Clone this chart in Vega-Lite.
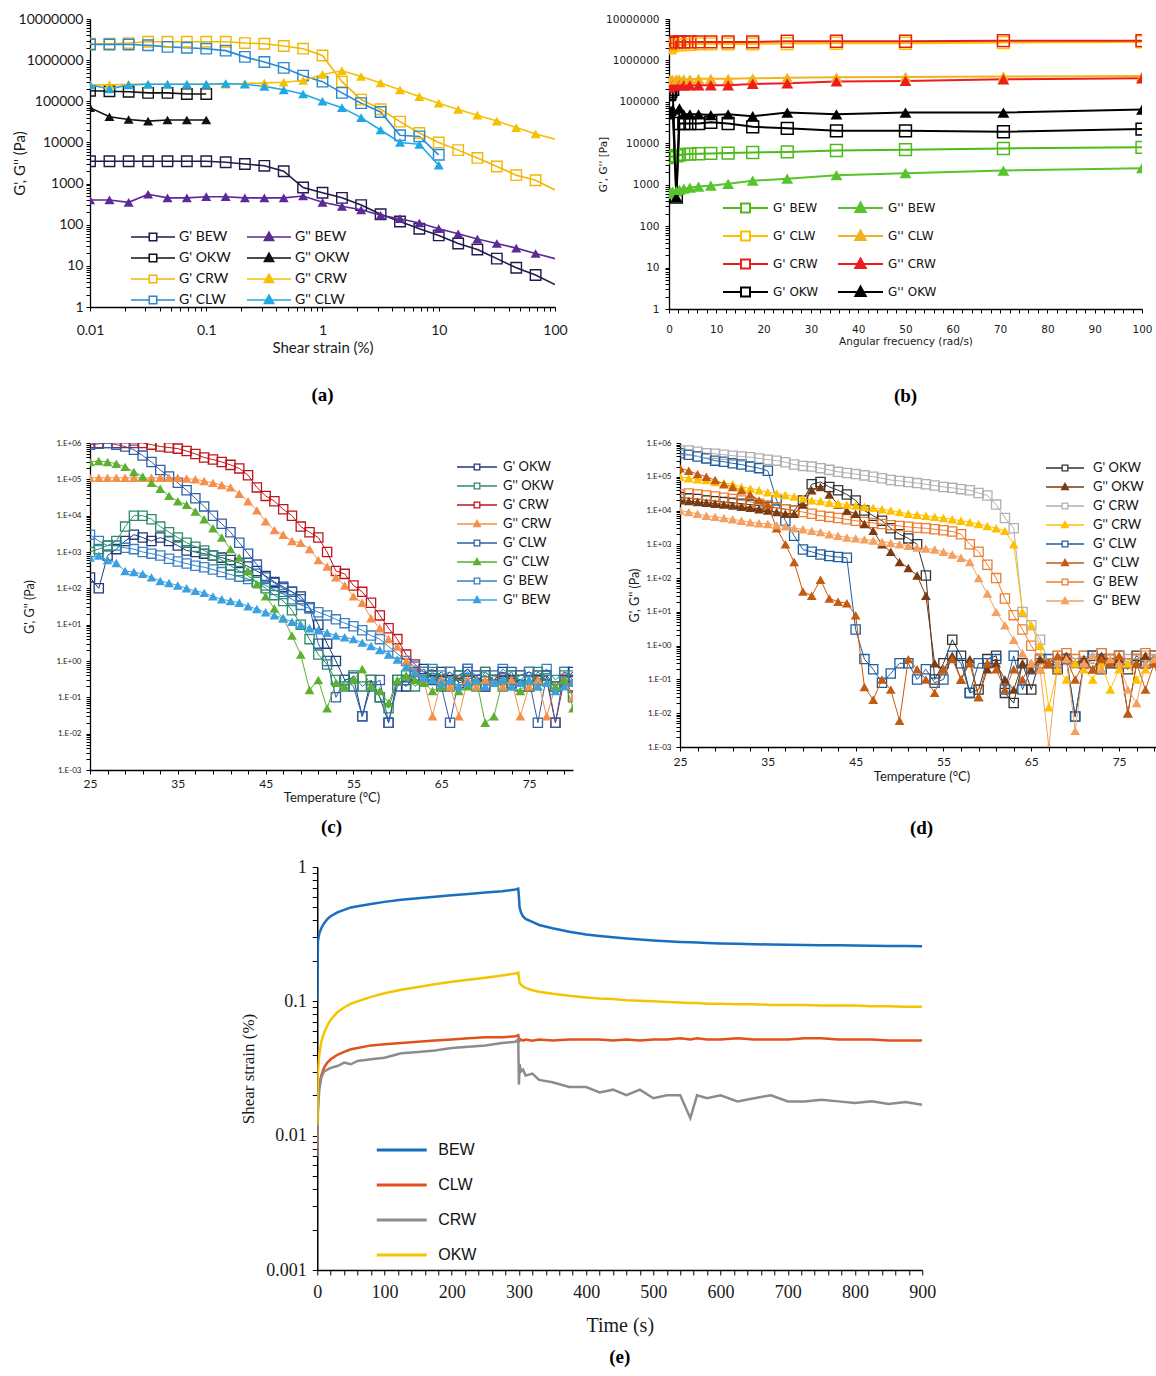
{
"$schema":"https://vega.github.io/schema/vega-lite/v6.json",
"padding":{"left":12,"top":12,"right":2,"bottom":2},
"background":"white",
"config":{"view":{"stroke":null},
"axis":{"grid":false,"domainColor":"#000","tickColor":"#000","labelColor":"#1a1a1a","titleColor":"#1a1a1a","titleFontWeight":"normal","labelOverlap":false,"labelFlush":false},
"title":{"font":"Liberation Serif","fontSize":19,"fontWeight":"bold","color":"#000"},
"legend":{"padding":0,"title":null,"symbolFillColor":"transparent"}},
"datasets":{
"a":[
{"x":0.01,"Gp BEW":3500,"Gpp BEW":400,"Gp OKW":180000,"Gpp OKW":70000,"Gp CRW":2500000,"Gpp CRW":250000,"Gp CLW":2400000,"Gpp CLW":250000},
{"x":0.0147,"Gp BEW":3500,"Gpp BEW":400,"Gp OKW":175000,"Gpp OKW":42000,"Gp CRW":2500000,"Gpp CRW":250000,"Gp CLW":2400000,"Gpp CLW":200000},
{"x":0.0215,"Gp BEW":3500,"Gpp BEW":350,"Gp OKW":170000,"Gpp OKW":36000,"Gp CRW":2600000,"Gpp CRW":260000,"Gp CLW":2400000,"Gpp CLW":250000},
{"x":0.0316,"Gp BEW":3500,"Gpp BEW":550,"Gp OKW":160000,"Gpp OKW":33000,"Gp CRW":2800000,"Gpp CRW":260000,"Gp CLW":2300000,"Gpp CLW":260000},
{"x":0.0464,"Gp BEW":3500,"Gpp BEW":450,"Gp OKW":160000,"Gpp OKW":35000,"Gp CRW":2800000,"Gpp CRW":260000,"Gp CLW":2100000,"Gpp CLW":260000},
{"x":0.0681,"Gp BEW":3500,"Gpp BEW":450,"Gp OKW":150000,"Gpp OKW":35000,"Gp CRW":2800000,"Gpp CRW":260000,"Gp CLW":2000000,"Gpp CLW":260000},
{"x":0.1,"Gp BEW":3500,"Gpp BEW":480,"Gp OKW":150000,"Gpp OKW":35000,"Gp CRW":2800000,"Gpp CRW":260000,"Gp CLW":1900000,"Gpp CLW":260000},
{"x":0.147,"Gp BEW":3300,"Gpp BEW":480,"Gp CRW":2800000,"Gpp CRW":260000,"Gp CLW":1700000,"Gpp CLW":270000},
{"x":0.215,"Gp BEW":3000,"Gpp BEW":450,"Gp CRW":2600000,"Gpp CRW":270000,"Gp CLW":1200000,"Gpp CLW":260000},
{"x":0.316,"Gp BEW":2700,"Gpp BEW":450,"Gp CRW":2500000,"Gpp CRW":280000,"Gp CLW":900000,"Gpp CLW":230000},
{"x":0.464,"Gp BEW":2000,"Gpp BEW":450,"Gp CRW":2200000,"Gpp CRW":290000,"Gp CLW":650000,"Gpp CLW":190000},
{"x":0.681,"Gp BEW":800,"Gpp BEW":500,"Gp CRW":1900000,"Gpp CRW":320000,"Gp CLW":420000,"Gpp CLW":150000},
{"x":1,"Gp BEW":600,"Gpp BEW":350,"Gp CRW":1300000,"Gpp CRW":450000,"Gp CLW":300000,"Gpp CLW":100000},
{"x":1.47,"Gp BEW":450,"Gpp BEW":280,"Gp CRW":300000,"Gpp CRW":550000,"Gp CLW":160000,"Gpp CLW":70000},
{"x":2.15,"Gp BEW":300,"Gpp BEW":230,"Gp CRW":110000,"Gpp CRW":400000,"Gp CLW":90000,"Gpp CLW":40000},
{"x":3.16,"Gp BEW":180,"Gpp BEW":170,"Gp CRW":64000,"Gpp CRW":280000,"Gp CLW":55000,"Gpp CLW":20000},
{"x":4.64,"Gp BEW":120,"Gpp BEW":140,"Gp CRW":32000,"Gpp CRW":190000,"Gp CLW":15000,"Gpp CLW":10000},
{"x":6.81,"Gp BEW":80,"Gpp BEW":110,"Gp CRW":17000,"Gpp CRW":130000,"Gp CLW":14000,"Gpp CLW":9000},
{"x":10,"Gp BEW":55,"Gpp BEW":80,"Gp CRW":10000,"Gpp CRW":90000,"Gp CLW":5000,"Gpp CLW":2800},
{"x":14.7,"Gp BEW":35,"Gpp BEW":60,"Gp CRW":6500,"Gpp CRW":63000},
{"x":21.5,"Gp BEW":25,"Gpp BEW":45,"Gp CRW":4200,"Gpp CRW":46000},
{"x":31.6,"Gp BEW":15,"Gpp BEW":35,"Gp CRW":2600,"Gpp CRW":33000},
{"x":46.4,"Gp BEW":9,"Gpp BEW":27,"Gp CRW":1600,"Gpp CRW":23000},
{"x":68.1,"Gp BEW":6,"Gpp BEW":20,"Gp CRW":1200,"Gpp CRW":16000},
{"x":100,"Gp BEW":3.5,"Gpp BEW":15,"Gp CRW":700,"Gpp CRW":12000}
],
"b":[
{"f":0.1,"Gp BEW":4500,"Gpp BEW":600,"Gp CLW":2000000,"Gpp CLW":330000,"Gp CRW":2400000,"Gpp CRW":220000,"Gp OKW":150000,"Gpp OKW":50000},
{"f":0.2,"Gp BEW":4600,"Gpp BEW":620,"Gp CLW":2100000,"Gpp CLW":330000,"Gp CRW":2500000,"Gpp CRW":230000,"Gp OKW":160000,"Gpp OKW":55000},
{"f":0.39,"Gp BEW":4700,"Gpp BEW":650,"Gp CLW":2200000,"Gpp CLW":340000,"Gp CRW":2600000,"Gpp CRW":240000,"Gp OKW":180000,"Gpp OKW":60000},
{"f":0.78,"Gp BEW":4800,"Gpp BEW":680,"Gp CLW":2300000,"Gpp CLW":340000,"Gp CRW":2700000,"Gpp CRW":250000,"Gp OKW":200000,"Gpp OKW":65000},
{"f":1.56,"Gp BEW":5000,"Gpp BEW":700,"Gp CLW":2400000,"Gpp CLW":350000,"Gp CRW":2800000,"Gpp CRW":250000,"Gp OKW":500,"Gpp OKW":500},
{"f":2.21,"Gp BEW":5200,"Gpp BEW":750,"Gp CLW":2400000,"Gpp CLW":350000,"Gp CRW":2800000,"Gpp CRW":250000,"Gp OKW":30000,"Gpp OKW":70000},
{"f":3.13,"Gp BEW":5400,"Gpp BEW":800,"Gp CLW":2400000,"Gpp CLW":350000,"Gp CRW":2800000,"Gpp CRW":250000,"Gp OKW":30000,"Gpp OKW":50000},
{"f":4.42,"Gp BEW":5500,"Gpp BEW":850,"Gp CLW":2450000,"Gpp CLW":350000,"Gp CRW":2800000,"Gpp CRW":250000,"Gp OKW":30000,"Gpp OKW":50000},
{"f":6.25,"Gp BEW":5600,"Gpp BEW":900,"Gp CLW":2500000,"Gpp CLW":360000,"Gp CRW":2800000,"Gpp CRW":250000,"Gp OKW":30000,"Gpp OKW":50000},
{"f":8.84,"Gp BEW":5700,"Gpp BEW":950,"Gp CLW":2500000,"Gpp CLW":360000,"Gp CRW":2800000,"Gpp CRW":250000,"Gp OKW":32000,"Gpp OKW":48000},
{"f":12.5,"Gp BEW":5800,"Gpp BEW":1050,"Gp CLW":2500000,"Gpp CLW":360000,"Gp CRW":2800000,"Gpp CRW":250000,"Gp OKW":30000,"Gpp OKW":50000},
{"f":17.7,"Gp BEW":6000,"Gpp BEW":1250,"Gp CLW":2500000,"Gpp CLW":370000,"Gp CRW":2800000,"Gpp CRW":270000,"Gp OKW":25000,"Gpp OKW":45000},
{"f":25,"Gp BEW":6200,"Gpp BEW":1400,"Gp CLW":2550000,"Gpp CLW":380000,"Gp CRW":2900000,"Gpp CRW":280000,"Gp OKW":23000,"Gpp OKW":55000},
{"f":35.4,"Gp BEW":6700,"Gpp BEW":1700,"Gp CLW":2600000,"Gpp CLW":390000,"Gp CRW":2900000,"Gpp CRW":310000,"Gp OKW":20000,"Gpp OKW":50000},
{"f":50,"Gp BEW":7000,"Gpp BEW":1900,"Gp CLW":2600000,"Gpp CLW":400000,"Gp CRW":2900000,"Gpp CRW":320000,"Gp OKW":20000,"Gpp OKW":55000},
{"f":70.7,"Gp BEW":7500,"Gpp BEW":2200,"Gp CLW":2700000,"Gpp CLW":410000,"Gp CRW":3000000,"Gpp CRW":350000,"Gp OKW":19000,"Gpp OKW":55000},
{"f":100,"Gp BEW":8000,"Gpp BEW":2500,"Gp CLW":2800000,"Gpp CLW":420000,"Gp CRW":3000000,"Gpp CRW":370000,"Gp OKW":22000,"Gpp OKW":65000}
],
"c":[
{"t":25,"Gp OKW":200,"Gpp OKW":1000,"Gp CRW":1000000,"Gpp CRW":110000,"Gp CLW":900000,"Gpp CLW":300000,"Gp BEW":3000,"Gpp BEW":700},
{"t":26,"Gp OKW":100,"Gpp OKW":1200,"Gp CRW":1000000,"Gpp CRW":110000,"Gp CLW":950000,"Gpp CLW":320000,"Gp BEW":2000,"Gpp BEW":800},
{"t":27,"Gp OKW":800,"Gpp OKW":1500,"Gp CRW":1000000,"Gpp CRW":110000,"Gp CLW":1000000,"Gpp CLW":300000,"Gp BEW":1500,"Gpp BEW":600},
{"t":28,"Gp OKW":1200,"Gpp OKW":2000,"Gp CRW":1000000,"Gpp CRW":110000,"Gp CLW":900000,"Gpp CLW":270000,"Gp BEW":1500,"Gpp BEW":500},
{"t":29,"Gp OKW":2000,"Gpp OKW":5000,"Gp CRW":1000000,"Gpp CRW":110000,"Gp CLW":800000,"Gpp CLW":220000,"Gp BEW":1300,"Gpp BEW":300},
{"t":30,"Gp OKW":3000,"Gpp OKW":10000,"Gp CRW":1000000,"Gpp CRW":110000,"Gp CLW":650000,"Gpp CLW":160000,"Gp BEW":1200,"Gpp BEW":280},
{"t":31,"Gp OKW":2500,"Gpp OKW":10000,"Gp CRW":1000000,"Gpp CRW":110000,"Gp CLW":450000,"Gpp CLW":120000,"Gp BEW":1000,"Gpp BEW":250},
{"t":32,"Gp OKW":2000,"Gpp OKW":8000,"Gp CRW":900000,"Gpp CRW":110000,"Gp CLW":300000,"Gpp CLW":80000,"Gp BEW":900,"Gpp BEW":200},
{"t":33,"Gp OKW":2500,"Gpp OKW":5000,"Gp CRW":800000,"Gpp CRW":110000,"Gp CLW":180000,"Gpp CLW":55000,"Gp BEW":800,"Gpp BEW":160},
{"t":34,"Gp OKW":2000,"Gpp OKW":3500,"Gp CRW":750000,"Gpp CRW":110000,"Gp CLW":120000,"Gpp CLW":35000,"Gp BEW":650,"Gpp BEW":140},
{"t":35,"Gp OKW":1500,"Gpp OKW":2500,"Gp CRW":700000,"Gpp CRW":110000,"Gp CLW":80000,"Gpp CLW":25000,"Gp BEW":550,"Gpp BEW":120},
{"t":36,"Gp OKW":1100,"Gpp OKW":1800,"Gp CRW":600000,"Gpp CRW":105000,"Gp CLW":50000,"Gpp CLW":20000,"Gp BEW":480,"Gpp BEW":100},
{"t":37,"Gp OKW":1000,"Gpp OKW":1400,"Gp CRW":500000,"Gpp CRW":100000,"Gp CLW":30000,"Gpp CLW":13000,"Gp BEW":420,"Gpp BEW":85},
{"t":38,"Gp OKW":900,"Gpp OKW":1100,"Gp CRW":400000,"Gpp CRW":90000,"Gp CLW":18000,"Gpp CLW":8000,"Gp BEW":380,"Gpp BEW":75},
{"t":39,"Gp OKW":800,"Gpp OKW":800,"Gp CRW":350000,"Gpp CRW":80000,"Gp CLW":10000,"Gpp CLW":4500,"Gp BEW":330,"Gpp BEW":60},
{"t":40,"Gp OKW":700,"Gpp OKW":600,"Gp CRW":300000,"Gpp CRW":70000,"Gp CLW":6000,"Gpp CLW":2500,"Gp BEW":280,"Gpp BEW":50},
{"t":41,"Gp OKW":600,"Gpp OKW":420,"Gp CRW":250000,"Gpp CRW":60000,"Gp CLW":3500,"Gpp CLW":1200,"Gp BEW":240,"Gpp BEW":45},
{"t":42,"Gp OKW":500,"Gpp OKW":300,"Gp CRW":200000,"Gpp CRW":40000,"Gp CLW":1800,"Gpp CLW":700,"Gp BEW":210,"Gpp BEW":40},
{"t":43,"Gp OKW":400,"Gpp OKW":220,"Gp CRW":130000,"Gpp CRW":25000,"Gp CLW":900,"Gpp CLW":300,"Gp BEW":180,"Gpp BEW":32},
{"t":44,"Gp OKW":300,"Gpp OKW":150,"Gp CRW":60000,"Gpp CRW":14000,"Gp CLW":450,"Gpp CLW":130,"Gp BEW":150,"Gpp BEW":27},
{"t":45,"Gp OKW":220,"Gpp OKW":100,"Gp CRW":35000,"Gpp CRW":7000,"Gp CLW":200,"Gpp CLW":60,"Gp BEW":120,"Gpp BEW":22},
{"t":46,"Gp OKW":150,"Gpp OKW":65,"Gp CRW":25000,"Gpp CRW":4000,"Gp CLW":140,"Gpp CLW":28,"Gp BEW":90,"Gpp BEW":18},
{"t":47,"Gp OKW":110,"Gpp OKW":45,"Gp CRW":15000,"Gpp CRW":3000,"Gp CLW":100,"Gpp CLW":15,"Gp BEW":70,"Gpp BEW":15},
{"t":48,"Gp OKW":80,"Gpp OKW":25,"Gp CRW":10000,"Gpp CRW":2000,"Gp CLW":80,"Gpp CLW":5,"Gp BEW":50,"Gpp BEW":12},
{"t":49,"Gp OKW":60,"Gpp OKW":10,"Gp CRW":5000,"Gpp CRW":1800,"Gp CLW":50,"Gpp CLW":1.5,"Gp BEW":35,"Gpp BEW":10},
{"t":50,"Gp OKW":30,"Gpp OKW":4,"Gp CRW":3500,"Gpp CRW":1200,"Gp CLW":30,"Gpp CLW":0.16,"Gp BEW":28,"Gpp BEW":8},
{"t":51,"Gp OKW":10,"Gpp OKW":1.5,"Gp CRW":2500,"Gpp CRW":600,"Gp CLW":3,"Gpp CLW":0.3,"Gp BEW":22,"Gpp BEW":7},
{"t":52,"Gp OKW":3,"Gpp OKW":0.8,"Gp CRW":1000,"Gpp CRW":400,"Gp CLW":1,"Gpp CLW":0.05,"Gp BEW":18,"Gpp BEW":6},
{"t":53,"Gp OKW":1,"Gpp OKW":0.3,"Gp CRW":300,"Gpp CRW":200,"Gp CLW":0.1,"Gpp CLW":0.25,"Gp BEW":14,"Gpp BEW":5},
{"t":54,"Gp OKW":0.3,"Gpp OKW":0.2,"Gp CRW":250,"Gpp CRW":120,"Gp CLW":0.3,"Gpp CLW":0.2,"Gp BEW":11,"Gpp BEW":4.5},
{"t":55,"Gp OKW":0.35,"Gpp OKW":0.4,"Gp CRW":120,"Gpp CRW":60,"Gp CLW":0.2,"Gpp CLW":0.3,"Gp BEW":9,"Gpp BEW":4},
{"t":56,"Gp OKW":0.03,"Gpp OKW":0.2,"Gp CRW":80,"Gpp CRW":40,"Gp CLW":0.03,"Gpp CLW":0.6,"Gp BEW":7,"Gpp BEW":3.2},
{"t":57,"Gp OKW":0.3,"Gpp OKW":0.3,"Gp CRW":40,"Gpp CRW":15,"Gp CLW":0.2,"Gpp CLW":0.2,"Gp BEW":5,"Gpp BEW":2.6},
{"t":58,"Gp OKW":0.1,"Gpp OKW":0.1,"Gp CRW":18,"Gpp CRW":8,"Gp CLW":0.3,"Gpp CLW":0.15,"Gp BEW":4,"Gpp BEW":2},
{"t":59,"Gp OKW":0.02,"Gpp OKW":0.05,"Gp CRW":8,"Gpp CRW":4,"Gp CLW":0.02,"Gpp CLW":0.07,"Gp BEW":2.5,"Gpp BEW":1.5},
{"t":60,"Gp OKW":0.3,"Gpp OKW":0.3,"Gp CRW":4,"Gpp CRW":2.5,"Gp CLW":0.2,"Gpp CLW":0.3,"Gp BEW":1.6,"Gpp BEW":1.1},
{"t":61,"Gp OKW":0.2,"Gpp OKW":0.4,"Gp CRW":1.5,"Gpp CRW":1,"Gp CLW":0.3,"Gpp CLW":0.4,"Gp BEW":1,"Gpp BEW":0.7},
{"t":62,"Gp OKW":0.4,"Gpp OKW":0.2,"Gp CRW":0.8,"Gpp CRW":0.5,"Gp CLW":0.5,"Gpp CLW":0.3,"Gp BEW":0.7,"Gpp BEW":0.5},
{"t":63,"Gp OKW":0.6,"Gpp OKW":0.3,"Gp CRW":0.5,"Gpp CRW":0.3,"Gp CLW":0.3,"Gpp CLW":0.25,"Gp BEW":0.5,"Gpp BEW":0.35},
{"t":64,"Gp OKW":0.3,"Gpp OKW":0.5,"Gp CRW":0.4,"Gpp CRW":0.03,"Gp CLW":0.4,"Gpp CLW":0.15,"Gp BEW":0.6,"Gpp BEW":0.3},
{"t":65,"Gp OKW":0.5,"Gpp OKW":0.3,"Gp CRW":0.3,"Gpp CRW":0.3,"Gp CLW":0.2,"Gpp CLW":0.2,"Gp BEW":0.4,"Gpp BEW":0.25},
{"t":66,"Gp OKW":0.3,"Gpp OKW":0.2,"Gp CRW":0.5,"Gpp CRW":0.2,"Gp CLW":0.02,"Gpp CLW":0.3,"Gp BEW":0.5,"Gpp BEW":0.3},
{"t":67,"Gp OKW":0.4,"Gpp OKW":0.4,"Gp CRW":0.25,"Gpp CRW":0.03,"Gp CLW":0.3,"Gpp CLW":0.15,"Gp BEW":0.3,"Gpp BEW":0.2},
{"t":68,"Gp OKW":0.6,"Gpp OKW":0.3,"Gp CRW":0.3,"Gpp CRW":0.3,"Gp CLW":0.5,"Gpp CLW":0.2,"Gp BEW":0.6,"Gpp BEW":0.25},
{"t":69,"Gp OKW":0.3,"Gpp OKW":0.2,"Gp CRW":0.4,"Gpp CRW":0.2,"Gp CLW":0.3,"Gpp CLW":0.3,"Gp BEW":0.4,"Gpp BEW":0.3},
{"t":70,"Gp OKW":0.4,"Gpp OKW":0.5,"Gp CRW":0.2,"Gpp CRW":0.3,"Gp CLW":0.2,"Gpp CLW":0.02,"Gp BEW":0.5,"Gpp BEW":0.2},
{"t":71,"Gp OKW":0.3,"Gpp OKW":0.3,"Gp CRW":0.3,"Gpp CRW":0.25,"Gp CLW":0.4,"Gpp CLW":0.03,"Gp BEW":0.3,"Gpp BEW":0.25},
{"t":72,"Gp OKW":0.5,"Gpp OKW":0.2,"Gp CRW":0.35,"Gpp CRW":0.2,"Gp CLW":0.3,"Gpp CLW":0.3,"Gp BEW":0.6,"Gpp BEW":0.3},
{"t":73,"Gp OKW":0.3,"Gpp OKW":0.4,"Gp CRW":0.25,"Gpp CRW":0.3,"Gp CLW":0.5,"Gpp CLW":0.2,"Gp BEW":0.4,"Gpp BEW":0.2},
{"t":74,"Gp OKW":0.4,"Gpp OKW":0.3,"Gp CRW":0.3,"Gpp CRW":0.03,"Gp CLW":0.2,"Gpp CLW":0.15,"Gp BEW":0.3,"Gpp BEW":0.25},
{"t":75,"Gp OKW":0.5,"Gpp OKW":0.2,"Gp CRW":0.2,"Gpp CRW":0.2,"Gp CLW":0.3,"Gpp CLW":0.3,"Gp BEW":0.5,"Gpp BEW":0.3},
{"t":76,"Gp OKW":0.3,"Gpp OKW":0.5,"Gp CRW":0.4,"Gpp CRW":0.3,"Gp CLW":0.02,"Gpp CLW":0.2,"Gp BEW":0.4,"Gpp BEW":0.2},
{"t":77,"Gp OKW":0.4,"Gpp OKW":0.3,"Gp CRW":0.3,"Gpp CRW":0.03,"Gp CLW":0.4,"Gpp CLW":0.25,"Gp BEW":0.6,"Gpp BEW":0.25},
{"t":78,"Gp OKW":0.2,"Gpp OKW":0.2,"Gp CRW":0.02,"Gpp CRW":0.2,"Gp CLW":0.02,"Gpp CLW":0.2,"Gp BEW":0.3,"Gpp BEW":0.15},
{"t":79,"Gp OKW":0.3,"Gpp OKW":0.4,"Gp CRW":0.3,"Gpp CRW":0.3,"Gp CLW":0.5,"Gpp CLW":0.3,"Gp BEW":0.5,"Gpp BEW":0.2},
{"t":80,"Gp OKW":0.5,"Gpp OKW":0.1,"Gp CRW":0.2,"Gpp CRW":0.1,"Gp CLW":0.3,"Gpp CLW":0.05,"Gp BEW":0.4,"Gpp BEW":0.25}
],
"d":[
{"t":25,"Gp OKW":25000,"Gpp OKW":20000,"Gp CRW":600000,"Gpp CRW":100000,"Gp CLW":500000,"Gpp CLW":180000,"Gp BEW":30000,"Gpp BEW":10000},
{"t":26,"Gp OKW":23000,"Gpp OKW":19000,"Gp CRW":600000,"Gpp CRW":90000,"Gp CLW":450000,"Gpp CLW":150000,"Gp BEW":32000,"Gpp BEW":9000},
{"t":27,"Gp OKW":22000,"Gpp OKW":18000,"Gp CRW":550000,"Gpp CRW":85000,"Gp CLW":400000,"Gpp CLW":120000,"Gp BEW":30000,"Gpp BEW":8000},
{"t":28,"Gp OKW":20000,"Gpp OKW":17000,"Gp CRW":500000,"Gpp CRW":80000,"Gp CLW":350000,"Gpp CLW":100000,"Gp BEW":28000,"Gpp BEW":7000},
{"t":29,"Gp OKW":19000,"Gpp OKW":16000,"Gp CRW":480000,"Gpp CRW":70000,"Gp CLW":300000,"Gpp CLW":80000,"Gp BEW":26000,"Gpp BEW":6500},
{"t":30,"Gp OKW":18000,"Gpp OKW":15000,"Gp CRW":450000,"Gpp CRW":65000,"Gp CLW":280000,"Gpp CLW":60000,"Gp BEW":24000,"Gpp BEW":6000},
{"t":31,"Gp OKW":17000,"Gpp OKW":14000,"Gp CRW":420000,"Gpp CRW":60000,"Gp CLW":250000,"Gpp CLW":50000,"Gp BEW":22000,"Gpp BEW":5500},
{"t":32,"Gp OKW":16000,"Gpp OKW":13000,"Gp CRW":400000,"Gpp CRW":50000,"Gp CLW":230000,"Gpp CLW":40000,"Gp BEW":20000,"Gpp BEW":5000},
{"t":33,"Gp OKW":15000,"Gpp OKW":12000,"Gp CRW":380000,"Gpp CRW":45000,"Gp CLW":200000,"Gpp CLW":30000,"Gp BEW":18000,"Gpp BEW":4500},
{"t":34,"Gp OKW":14000,"Gpp OKW":11000,"Gp CRW":350000,"Gpp CRW":40000,"Gp CLW":180000,"Gpp CLW":20000,"Gp BEW":16000,"Gpp BEW":4200},
{"t":35,"Gp OKW":13000,"Gpp OKW":10000,"Gp CRW":320000,"Gpp CRW":35000,"Gp CLW":150000,"Gpp CLW":15000,"Gp BEW":14000,"Gpp BEW":4000},
{"t":36,"Gp OKW":12000,"Gpp OKW":9000,"Gp CRW":300000,"Gpp CRW":32000,"Gp CLW":20000,"Gpp CLW":3000,"Gp BEW":12000,"Gpp BEW":3700},
{"t":37,"Gp OKW":11000,"Gpp OKW":8000,"Gp CRW":270000,"Gpp CRW":29000,"Gp CLW":5000,"Gpp CLW":1000,"Gp BEW":11000,"Gpp BEW":3400},
{"t":38,"Gp OKW":10000,"Gpp OKW":8000,"Gp CRW":230000,"Gpp CRW":26000,"Gp CLW":1800,"Gpp CLW":300,"Gp BEW":10000,"Gpp BEW":3000},
{"t":39,"Gp OKW":20000,"Gpp OKW":15000,"Gp CRW":210000,"Gpp CRW":23000,"Gp CLW":700,"Gpp CLW":40,"Gp BEW":9000,"Gpp BEW":2800},
{"t":40,"Gp OKW":60000,"Gpp OKW":40000,"Gp CRW":200000,"Gpp CRW":20000,"Gp CLW":600,"Gpp CLW":30,"Gp BEW":8000,"Gpp BEW":2500},
{"t":41,"Gp OKW":70000,"Gpp OKW":50000,"Gp CRW":180000,"Gpp CRW":19000,"Gp CLW":500,"Gpp CLW":90,"Gp BEW":7000,"Gpp BEW":2300},
{"t":42,"Gp OKW":50000,"Gpp OKW":30000,"Gp CRW":160000,"Gpp CRW":17000,"Gp CLW":450,"Gpp CLW":25,"Gp BEW":6500,"Gpp BEW":2000},
{"t":43,"Gp OKW":40000,"Gpp OKW":15000,"Gp CRW":140000,"Gpp CRW":16000,"Gp CLW":420,"Gpp CLW":20,"Gp BEW":6000,"Gpp BEW":1800},
{"t":44,"Gp OKW":30000,"Gpp OKW":10000,"Gp CRW":130000,"Gpp CRW":15000,"Gp CLW":400,"Gpp CLW":18,"Gp BEW":5500,"Gpp BEW":1600},
{"t":45,"Gp OKW":20000,"Gpp OKW":8000,"Gp CRW":120000,"Gpp CRW":14000,"Gp CLW":3,"Gpp CLW":8,"Gp BEW":5000,"Gpp BEW":1500},
{"t":46,"Gp OKW":10000,"Gpp OKW":4000,"Gp CRW":110000,"Gpp CRW":13000,"Gp CLW":0.4,"Gpp CLW":0.06,"Gp BEW":4600,"Gpp BEW":1400},
{"t":47,"Gp OKW":7000,"Gpp OKW":2500,"Gp CRW":100000,"Gpp CRW":12000,"Gp CLW":0.2,"Gpp CLW":0.025,"Gp BEW":4300,"Gpp BEW":1300},
{"t":48,"Gp OKW":5000,"Gpp OKW":1000,"Gp CRW":90000,"Gpp CRW":11000,"Gp CLW":0.08,"Gpp CLW":0.1,"Gp BEW":4000,"Gpp BEW":1200},
{"t":49,"Gp OKW":3000,"Gpp OKW":600,"Gp CRW":80000,"Gpp CRW":10000,"Gp CLW":0.15,"Gpp CLW":0.05,"Gp BEW":3700,"Gpp BEW":1100},
{"t":50,"Gp OKW":2000,"Gpp OKW":300,"Gp CRW":75000,"Gpp CRW":9000,"Gp CLW":0.3,"Gpp CLW":0.006,"Gp BEW":3500,"Gpp BEW":1000},
{"t":51,"Gp OKW":1500,"Gpp OKW":200,"Gp CRW":70000,"Gpp CRW":8000,"Gp CLW":0.3,"Gpp CLW":0.4,"Gp BEW":3300,"Gpp BEW":900},
{"t":52,"Gp OKW":1000,"Gpp OKW":120,"Gp CRW":65000,"Gpp CRW":7500,"Gp CLW":0.1,"Gpp CLW":0.2,"Gp BEW":3100,"Gpp BEW":800},
{"t":53,"Gp OKW":120,"Gpp OKW":30,"Gp CRW":60000,"Gpp CRW":7000,"Gp CLW":0.2,"Gpp CLW":0.1,"Gp BEW":3000,"Gpp BEW":750},
{"t":54,"Gp OKW":0.1,"Gpp OKW":0.3,"Gp CRW":55000,"Gpp CRW":6500,"Gp CLW":0.08,"Gpp CLW":0.04,"Gp BEW":2800,"Gpp BEW":700},
{"t":55,"Gp OKW":0.3,"Gpp OKW":0.2,"Gp CRW":50000,"Gpp CRW":6000,"Gp CLW":0.1,"Gpp CLW":0.2,"Gp BEW":2600,"Gpp BEW":600},
{"t":56,"Gp OKW":1.5,"Gpp OKW":0.5,"Gp CRW":47000,"Gpp CRW":5500,"Gp CLW":0.5,"Gpp CLW":0.4,"Gp BEW":2400,"Gpp BEW":500},
{"t":57,"Gp OKW":0.5,"Gpp OKW":0.1,"Gp CRW":43000,"Gpp CRW":5000,"Gp CLW":0.3,"Gpp CLW":0.1,"Gp BEW":2000,"Gpp BEW":400},
{"t":58,"Gp OKW":0.04,"Gpp OKW":0.4,"Gp CRW":40000,"Gpp CRW":4500,"Gp CLW":0.04,"Gpp CLW":0.3,"Gp BEW":1000,"Gpp BEW":300},
{"t":59,"Gp OKW":0.05,"Gpp OKW":0.03,"Gp CRW":33000,"Gpp CRW":4000,"Gp CLW":0.3,"Gpp CLW":0.03,"Gp BEW":600,"Gpp BEW":100},
{"t":60,"Gp OKW":0.4,"Gpp OKW":0.2,"Gp CRW":28000,"Gpp CRW":3500,"Gp CLW":0.3,"Gpp CLW":0.3,"Gp BEW":250,"Gpp BEW":35},
{"t":61,"Gp OKW":0.5,"Gpp OKW":0.3,"Gp CRW":15000,"Gpp CRW":3000,"Gp CLW":0.4,"Gpp CLW":0.2,"Gp BEW":100,"Gpp BEW":10},
{"t":62,"Gp OKW":0.04,"Gpp OKW":0.1,"Gp CRW":6000,"Gpp CRW":2500,"Gp CLW":0.05,"Gpp CLW":0.05,"Gp BEW":25,"Gpp BEW":4},
{"t":63,"Gp OKW":0.02,"Gpp OKW":0.05,"Gp CRW":3000,"Gpp CRW":1000,"Gp CLW":0.5,"Gpp CLW":0.2,"Gp BEW":8,"Gpp BEW":1.5},
{"t":64,"Gp OKW":0.3,"Gpp OKW":0.3,"Gp CRW":10,"Gpp CRW":10,"Gp CLW":0.05,"Gpp CLW":0.1,"Gp BEW":3,"Gpp BEW":0.6},
{"t":65,"Gp OKW":0.05,"Gpp OKW":0.2,"Gp CRW":4,"Gpp CRW":4,"Gp CLW":0.2,"Gpp CLW":0.3,"Gp BEW":1,"Gpp BEW":0.3},
{"t":66,"Gp OKW":0.4,"Gpp OKW":0.4,"Gp CRW":1.5,"Gpp CRW":1,"Gp CLW":0.3,"Gpp CLW":0.2,"Gp BEW":0.4,"Gpp BEW":0.2},
{"t":67,"Gp OKW":0.3,"Gpp OKW":0.3,"Gp CRW":0.3,"Gpp CRW":0.015,"Gp CLW":0.4,"Gpp CLW":0.3,"Gp BEW":0.3,"Gpp BEW":0.001},
{"t":68,"Gp OKW":0.2,"Gpp OKW":0.2,"Gp CRW":0.5,"Gpp CRW":0.2,"Gp CLW":0.3,"Gpp CLW":0.5,"Gp BEW":0.5,"Gpp BEW":0.3},
{"t":69,"Gp OKW":0.4,"Gpp OKW":0.5,"Gp CRW":0.4,"Gpp CRW":0.1,"Gp CLW":0.4,"Gpp CLW":0.4,"Gp BEW":0.6,"Gpp BEW":0.4},
{"t":70,"Gp OKW":0.008,"Gpp OKW":0.3,"Gp CRW":0.3,"Gpp CRW":0.3,"Gp CLW":0.008,"Gpp CLW":0.1,"Gp BEW":0.4,"Gpp BEW":0.003},
{"t":71,"Gp OKW":0.3,"Gpp OKW":0.4,"Gp CRW":0.5,"Gpp CRW":0.2,"Gp CLW":0.3,"Gpp CLW":0.3,"Gp BEW":0.5,"Gpp BEW":0.3},
{"t":72,"Gp OKW":0.5,"Gpp OKW":0.2,"Gp CRW":0.4,"Gpp CRW":0.1,"Gp CLW":0.5,"Gpp CLW":0.2,"Gp BEW":0.3,"Gpp BEW":0.5},
{"t":73,"Gp OKW":0.2,"Gpp OKW":0.5,"Gp CRW":0.6,"Gpp CRW":0.3,"Gp CLW":0.4,"Gpp CLW":0.4,"Gp BEW":0.6,"Gpp BEW":0.2},
{"t":74,"Gp OKW":0.4,"Gpp OKW":0.3,"Gp CRW":0.3,"Gpp CRW":0.05,"Gp CLW":0.3,"Gpp CLW":0.3,"Gp BEW":0.4,"Gpp BEW":0.4},
{"t":75,"Gp OKW":0.3,"Gpp OKW":0.4,"Gp CRW":0.5,"Gpp CRW":0.2,"Gp CLW":0.5,"Gpp CLW":0.5,"Gp BEW":0.5,"Gpp BEW":0.3},
{"t":76,"Gp OKW":0.2,"Gpp OKW":0.01,"Gp CRW":0.4,"Gpp CRW":0.3,"Gp CLW":0.3,"Gpp CLW":0.01,"Gp BEW":0.3,"Gpp BEW":0.05},
{"t":77,"Gp OKW":0.5,"Gpp OKW":0.3,"Gp CRW":0.3,"Gpp CRW":0.1,"Gp CLW":0.4,"Gpp CLW":0.3,"Gp BEW":0.4,"Gpp BEW":0.02},
{"t":78,"Gp OKW":0.3,"Gpp OKW":0.5,"Gp CRW":0.5,"Gpp CRW":0.2,"Gp CLW":0.3,"Gpp CLW":0.05,"Gp BEW":0.6,"Gpp BEW":0.3},
{"t":79,"Gp OKW":0.5,"Gpp OKW":0.3,"Gp CRW":0.4,"Gpp CRW":0.3,"Gp CLW":0.5,"Gpp CLW":0.3,"Gp BEW":0.5,"Gpp BEW":0.4},
{"t":80,"Gp OKW":0.3,"Gpp OKW":0.2,"Gp CRW":0.6,"Gpp CRW":0.2,"Gp CLW":0.4,"Gpp CLW":0.03,"Gp BEW":0.4,"Gpp BEW":0.2}
],
"e":[
{"t":0,"BEW":0.1,"CLW":0.008,"CRW":0.007,"OKW":0.012},
{"t":1,"BEW":0.28,"CLW":0.018,"CRW":0.015,"OKW":0.03},
{"t":3,"BEW":0.32,"CLW":0.024,"CRW":0.022,"OKW":0.04},
{"t":6,"BEW":0.35,"CLW":0.028,"CRW":0.027,"OKW":0.05},
{"t":10,"BEW":0.38,"CLW":0.032,"CRW":0.03,"OKW":0.058},
{"t":15,"BEW":0.41,"CLW":0.035,"CRW":0.031,"OKW":0.066},
{"t":20,"BEW":0.43,"CLW":0.037,"CRW":0.032,"OKW":0.073},
{"t":30,"BEW":0.46,"CLW":0.04,"CRW":0.033,"OKW":0.083},
{"t":40,"BEW":0.48,"CLW":0.042,"CRW":0.035,"OKW":0.09},
{"t":50,"BEW":0.5,"CLW":0.044,"CRW":0.034,"OKW":0.096},
{"t":60,"BEW":0.51,"CLW":0.045,"CRW":0.036,"OKW":0.1},
{"t":80,"BEW":0.53,"CLW":0.047,"CRW":0.037,"OKW":0.108},
{"t":100,"BEW":0.55,"CLW":0.048,"CRW":0.038,"OKW":0.115},
{"t":125,"BEW":0.57,"CLW":0.049,"CRW":0.041,"OKW":0.122},
{"t":150,"BEW":0.585,"CLW":0.05,"CRW":0.042,"OKW":0.128},
{"t":175,"BEW":0.6,"CLW":0.051,"CRW":0.043,"OKW":0.134},
{"t":200,"BEW":0.615,"CLW":0.052,"CRW":0.045,"OKW":0.14},
{"t":225,"BEW":0.63,"CLW":0.053,"CRW":0.046,"OKW":0.145},
{"t":250,"BEW":0.645,"CLW":0.054,"CRW":0.047,"OKW":0.15},
{"t":275,"BEW":0.66,"CLW":0.054,"CRW":0.049,"OKW":0.156},
{"t":295,"BEW":0.68,"CLW":0.055,"CRW":0.05,"OKW":0.161},
{"t":299,"BEW":0.69,"CLW":0.056,"CRW":0.052,"OKW":0.164},
{"t":300,"BEW":0.6,"CLW":0.053,"CRW":0.024,"OKW":0.15},
{"t":301,"BEW":0.5,"CLW":0.051,"CRW":0.034,"OKW":0.138},
{"t":303,"BEW":0.46,"CLW":0.052,"CRW":0.03,"OKW":0.133},
{"t":306,"BEW":0.43,"CLW":0.051,"CRW":0.031,"OKW":0.129},
{"t":310,"BEW":0.41,"CLW":0.052,"CRW":0.028,"OKW":0.126},
{"t":320,"BEW":0.39,"CLW":0.051,"CRW":0.029,"OKW":0.121},
{"t":330,"BEW":0.37,"CLW":0.052,"CRW":0.026,"OKW":0.118},
{"t":350,"BEW":0.35,"CLW":0.051,"CRW":0.025,"OKW":0.114},
{"t":375,"BEW":0.33,"CLW":0.052,"CRW":0.023,"OKW":0.11},
{"t":400,"BEW":0.315,"CLW":0.052,"CRW":0.023,"OKW":0.107},
{"t":420,"BEW":0.307,"CLW":0.052,"CRW":0.021,"OKW":0.105},
{"t":440,"BEW":0.3,"CLW":0.051,"CRW":0.022,"OKW":0.104},
{"t":460,"BEW":0.294,"CLW":0.052,"CRW":0.02,"OKW":0.102},
{"t":480,"BEW":0.289,"CLW":0.051,"CRW":0.022,"OKW":0.101},
{"t":500,"BEW":0.284,"CLW":0.052,"CRW":0.019,"OKW":0.1},
{"t":520,"BEW":0.28,"CLW":0.052,"CRW":0.02,"OKW":0.099},
{"t":540,"BEW":0.277,"CLW":0.053,"CRW":0.02,"OKW":0.098},
{"t":555,"BEW":0.275,"CLW":0.052,"CRW":0.0135,"OKW":0.097},
{"t":565,"BEW":0.274,"CLW":0.053,"CRW":0.02,"OKW":0.097},
{"t":580,"BEW":0.272,"CLW":0.052,"CRW":0.019,"OKW":0.096},
{"t":600,"BEW":0.27,"CLW":0.052,"CRW":0.02,"OKW":0.096},
{"t":625,"BEW":0.268,"CLW":0.053,"CRW":0.018,"OKW":0.095},
{"t":650,"BEW":0.266,"CLW":0.052,"CRW":0.019,"OKW":0.095},
{"t":675,"BEW":0.265,"CLW":0.052,"CRW":0.02,"OKW":0.094},
{"t":700,"BEW":0.264,"CLW":0.052,"CRW":0.018,"OKW":0.094},
{"t":725,"BEW":0.263,"CLW":0.053,"CRW":0.018,"OKW":0.094},
{"t":750,"BEW":0.262,"CLW":0.053,"CRW":0.0185,"OKW":0.093},
{"t":775,"BEW":0.261,"CLW":0.052,"CRW":0.018,"OKW":0.093},
{"t":800,"BEW":0.26,"CLW":0.052,"CRW":0.0175,"OKW":0.093},
{"t":825,"BEW":0.259,"CLW":0.052,"CRW":0.018,"OKW":0.092},
{"t":850,"BEW":0.258,"CLW":0.051,"CRW":0.0172,"OKW":0.092},
{"t":875,"BEW":0.258,"CLW":0.051,"CRW":0.0178,"OKW":0.091},
{"t":900,"BEW":0.257,"CLW":0.051,"CRW":0.017,"OKW":0.091}
]
},
"vconcat":[
{"vconcat":[
{"hconcat":[
{"width":465,"height":288,"data":{"name":"a"},
"transform":[{"fold":["Gp BEW","Gpp BEW","Gp OKW","Gpp OKW","Gp CRW","Gpp CRW","Gp CLW","Gpp CLW"],"as":["s","v"]},{"filter":"isValid(datum.v)"}],
"title":{"text":"(a)","orient":"bottom","frame":"group","offset":31},
"encoding":{
"x":{"field":"x","type":"quantitative","scale":{"type":"log","domain":[0.01,100]},"axis":{"title":"Shear strain (%)","tickCount":40,"labelExpr":"abs(log(datum.value)/LN10-round(log(datum.value)/LN10))<0.001?format(datum.value,'~r'):''","labelFont":"Lato","labelFontSize":14,"titleFont":"Lato","titleFontSize":15,"tickSize":4,"labelPadding":12,"titlePadding":3,"domainWidth":1.3}},
"y":{"field":"v","type":"quantitative","scale":{"type":"log","domain":[1,10000000]},"axis":{"title":"G', G'' (Pa)","tickCount":40,"labelExpr":"abs(log(datum.value)/LN10-round(log(datum.value)/LN10))<0.001?format(datum.value,'d'):''","labelFont":"Lato","labelFontSize":14,"titleFont":"Lato","titleFontSize":15,"tickSize":4,"labelPadding":3,"titlePadding":-9,"domainWidth":1.3}}
},
"layer":[
{"transform":[{"filter":{"field":"s","oneOf":["Gp BEW","Gp OKW","Gp CRW","Gp CLW"]}}],
"encoding":{"color":{"field":"s","type":"nominal","scale":{"domain":["Gp BEW","Gp OKW","Gp CRW","Gp CLW"],"range":["#221a4a","#111111","#f2b705","#2a88d0"]},
"legend":{"orient":"none","legendX":40,"legendY":210,"rowPadding":5,"symbolType":"M-1,0H-0.17M0.17,0H1M-0.17,-0.17H0.17V0.17H-0.17Z","symbolSize":1936,"symbolStrokeWidth":1.6,"clipHeight":16,"labelFont":"Lato","labelFontSize":14,"labelColor":"#111","labelOffset":3,"labelExpr":"replace(replace(datum.label, 'Gpp', \"G''\"), 'Gp', \"G'\")"}}},
"layer":[
{"mark":{"type":"line","strokeWidth":1.6,"clip":true},"encoding":{}},
{"transform":[{"filter":"datum.x < 99"}],"mark":{"type":"point","shape":"square","filled":false,"size":110,"strokeWidth":1.4,"opacity":1,"clip":true},"encoding":{}}
]},
{"transform":[{"filter":{"field":"s","oneOf":["Gpp BEW","Gpp OKW","Gpp CRW","Gpp CLW"]}}],
"encoding":{"color":{"field":"s","type":"nominal","scale":{"domain":["Gpp BEW","Gpp OKW","Gpp CRW","Gpp CLW"],"range":["#5b2a96","#111111","#f5c000","#1fa8e8"]},
"legend":{"orient":"none","legendX":156,"legendY":210,"rowPadding":5,"symbolType":"M-1,0H1M0,-0.22L0.21,0.16H-0.21Z","symbolSize":1936,"symbolStrokeWidth":1.6,"clipHeight":16,"labelFont":"Lato","labelFontSize":14,"labelColor":"#111","labelOffset":3,"labelExpr":"replace(replace(datum.label, 'Gpp', \"G''\"), 'Gp', \"G'\")"}}},
"layer":[
{"mark":{"type":"line","strokeWidth":1.6,"clip":true},"encoding":{}},
{"transform":[{"filter":"datum.x < 99"}],"mark":{"type":"point","shape":"triangle-up","filled":true,"size":100,"opacity":1,"clip":true},"encoding":{}}
]}
],
"resolve":{"scale":{"color":"independent"}}
},
{"width":473,"height":290,"data":{"name":"b"},
"transform":[{"fold":["Gp BEW","Gpp BEW","Gp CLW","Gpp CLW","Gp CRW","Gpp CRW","Gp OKW","Gpp OKW"],"as":["s","v"]},{"filter":"isValid(datum.v)"}],
"title":{"text":"(b)","orient":"bottom","frame":"group","offset":40},
"encoding":{
"x":{"field":"f","type":"quantitative","scale":{"domain":[0,100],"nice":false},"axis":{"title":"Angular frecuency (rad/s)","values":[0,2,4,6,8,10,12,14,16,18,20,22,24,26,28,30,32,34,36,38,40,42,44,46,48,50,52,54,56,58,60,62,64,66,68,70,72,74,76,78,80,82,84,86,88,90,92,94,96,98,100],"labelExpr":"datum.value % 10 == 0 ? datum.label : ''","labelFont":"DejaVu Sans","labelFontSize":10.5,"titleFont":"DejaVu Sans","titleFontSize":10.5,"tickSize":4,"labelPadding":11,"titlePadding":2,"domainWidth":1.3}},
"y":{"field":"v","type":"quantitative","scale":{"type":"log","domain":[1,10000000]},"axis":{"title":"G', G'' [Pa]","tickCount":40,"labelExpr":"abs(log(datum.value)/LN10-round(log(datum.value)/LN10))<0.001?format(datum.value,'d'):''","labelFont":"DejaVu Sans","labelFontSize":10.5,"titleFont":"DejaVu Sans","titleFontSize":10.5,"tickSize":4,"labelPadding":6,"titlePadding":-3,"domainWidth":1.3}}
},
"layer":[
{"transform":[{"filter":{"field":"s","oneOf":["Gp BEW","Gp CLW","Gp CRW","Gp OKW"]}}],
"encoding":{"color":{"field":"s","type":"nominal","scale":{"domain":["Gp BEW","Gp CLW","Gp CRW","Gp OKW"],"range":["#4cbb1a","#ffc000","#e3201b","#000000"]},
"legend":{"orient":"none","legendX":53,"legendY":181,"rowPadding":12,"symbolType":"M-1,0H-0.2M0.2,0H1M-0.2,-0.2H0.2V0.2H-0.2Z","symbolSize":2025,"symbolStrokeWidth":2,"clipHeight":16,"labelFont":"DejaVu Sans","labelFontSize":12,"labelColor":"#111","labelOffset":4,"labelExpr":"replace(replace(datum.label, 'Gpp', \"G''\"), 'Gp', \"G'\")"}}},
"layer":[
{"mark":{"type":"line","strokeWidth":2,"clip":true},"encoding":{}},
{"mark":{"type":"point","shape":"square","filled":false,"size":140,"strokeWidth":1.5,"opacity":1,"clip":true},"encoding":{}}
]},
{"transform":[{"filter":{"field":"s","oneOf":["Gpp BEW","Gpp CLW","Gpp CRW","Gpp OKW"]}}],
"encoding":{"color":{"field":"s","type":"nominal","scale":{"domain":["Gpp BEW","Gpp CLW","Gpp CRW","Gpp OKW"],"range":["#56c42a","#f2b21c","#ee1c1c","#000000"]},
"legend":{"orient":"none","legendX":168,"legendY":181,"rowPadding":12,"symbolType":"M-1,0H1M0,-0.24L0.23,0.18H-0.23Z","symbolSize":2025,"symbolStrokeWidth":2,"clipHeight":16,"labelFont":"DejaVu Sans","labelFontSize":12,"labelColor":"#111","labelOffset":4,"labelExpr":"replace(replace(datum.label, 'Gpp', \"G''\"), 'Gp', \"G'\")"}}},
"layer":[
{"mark":{"type":"line","strokeWidth":2,"clip":true},"encoding":{}},
{"mark":{"type":"point","shape":"triangle-up","filled":true,"size":140,"opacity":1,"clip":true},"encoding":{}}
]}
],
"resolve":{"scale":{"color":"independent"}}
}
],"spacing":30},
{"hconcat":[
{"width":483,"height":327,"data":{"name":"c"},
"transform":[{"fold":["Gp OKW","Gpp OKW","Gp CRW","Gpp CRW","Gp CLW","Gpp CLW","Gp BEW","Gpp BEW"],"as":["s","v"]},{"filter":"isValid(datum.v)"}],
"title":{"text":"(c)","orient":"bottom","frame":"group","offset":14},
"encoding":{
"x":{"field":"t","type":"quantitative","scale":{"domain":[25,80],"nice":false},"axis":{"title":"Temperature (°C)","values":[25,27,29,31,33,35,37,39,41,43,45,47,49,51,53,55,57,59,61,63,65,67,69,71,73,75,77,79],"labelExpr":"(datum.value - 25) % 10 == 0 ? datum.label : ''","labelFont":"Lato","labelFontSize":12,"titleFont":"Lato","titleFontSize":13,"tickSize":4,"labelPadding":4,"titlePadding":2,"domainWidth":1.3}},
"y":{"field":"v","type":"quantitative","scale":{"type":"log","domain":[0.001,1000000]},"axis":{"title":"G', G'' (Pa)","tickCount":40,"labelExpr":"abs(log(datum.value)/LN10-round(log(datum.value)/LN10))<0.001?'1.E'+(datum.value>=1?'+0':'-0')+abs(round(log(datum.value)/LN10)):''","labelFont":"Lato","labelFontSize":8,"titleFont":"Lato","titleFontSize":12.5,"tickSize":4,"labelPadding":5,"titlePadding":19,"domainWidth":1.3}}
},
"layer":[
{"transform":[{"filter":{"field":"s","oneOf":["Gp OKW","Gp CRW","Gp CLW","Gp BEW"]}}],
"encoding":{"color":{"field":"s","type":"nominal","scale":{"domain":["Gp OKW","Gp CRW","Gp CLW","Gp BEW"],"range":["#1f3a78","#c0141c","#2f5fa8","#3a80c4"]},
"legend":{"orient":"none","legendX":366,"legendY":17,"rowPadding":24,"symbolType":"M-1,0H-0.14M0.14,0H1M-0.14,-0.14H0.14V0.14H-0.14Z","symbolSize":1600,"symbolStrokeWidth":1.3,"clipHeight":14,"labelFont":"Lato","labelFontSize":13,"labelColor":"#111","labelOffset":5,"labelExpr":"replace(replace(datum.label, 'Gpp', \"G''\"), 'Gp', \"G'\")"}}},
"layer":[
{"mark":{"type":"line","strokeWidth":1,"clip":true},"encoding":{}},
{"mark":{"type":"point","shape":"square","filled":false,"size":85,"strokeWidth":1.3,"opacity":1,"clip":true},"encoding":{}}
]},
{"transform":[{"filter":{"field":"s","equal":"Gpp OKW"}}],
"encoding":{"color":{"field":"s","type":"nominal","scale":{"domain":["Gpp OKW"],"range":["#2e8b6a"]},
"legend":{"orient":"none","legendX":366,"legendY":36,"rowPadding":24,"symbolType":"M-1,0H-0.14M0.14,0H1M-0.14,-0.14H0.14V0.14H-0.14Z","symbolSize":1600,"symbolStrokeWidth":1.3,"clipHeight":14,"labelFont":"Lato","labelFontSize":13,"labelColor":"#111","labelOffset":5,"labelExpr":"replace(replace(datum.label, 'Gpp', \"G''\"), 'Gp', \"G'\")"}}},
"layer":[
{"mark":{"type":"line","strokeWidth":1,"clip":true},"encoding":{}},
{"mark":{"type":"point","shape":"square","filled":false,"size":85,"strokeWidth":1.3,"opacity":1,"clip":true},"encoding":{}}
]},
{"transform":[{"filter":{"field":"s","oneOf":["Gpp CRW","Gpp CLW","Gpp BEW"]}}],
"encoding":{"color":{"field":"s","type":"nominal","scale":{"domain":["Gpp CRW","Gpp CLW","Gpp BEW"],"range":["#f4904a","#5cb030","#3aa0e0"]},
"legend":{"orient":"none","legendX":366,"legendY":74,"rowPadding":24,"symbolType":"M-1,0H1M0,-0.18L0.17,0.13H-0.17Z","symbolSize":1600,"symbolStrokeWidth":1.3,"clipHeight":14,"labelFont":"Lato","labelFontSize":13,"labelColor":"#111","labelOffset":5,"labelExpr":"replace(replace(datum.label, 'Gpp', \"G''\"), 'Gp', \"G'\")"}}},
"layer":[
{"mark":{"type":"line","strokeWidth":1,"clip":true},"encoding":{}},
{"mark":{"type":"point","shape":"triangle-up","filled":true,"size":95,"opacity":1,"clip":true},"encoding":{}}
]}
],
"resolve":{"scale":{"color":"independent"}}
},
{"width":483,"height":304,"data":{"name":"d"},
"transform":[{"fold":["Gp OKW","Gpp OKW","Gp CRW","Gpp CRW","Gp CLW","Gpp CLW","Gp BEW","Gpp BEW"],"as":["s","v"]},{"filter":"isValid(datum.v)"}],
"title":{"text":"(d)","orient":"bottom","frame":"group","offset":36},
"encoding":{
"x":{"field":"t","type":"quantitative","scale":{"domain":[25,80],"nice":false},"axis":{"title":"Temperature (°C)","values":[25,27,29,31,33,35,37,39,41,43,45,47,49,51,53,55,57,59,61,63,65,67,69,71,73,75,77,79],"labelExpr":"(datum.value - 25) % 10 == 0 ? datum.label : ''","labelFont":"Lato","labelFontSize":12,"titleFont":"Lato","titleFontSize":13,"tickSize":4,"labelPadding":5,"titlePadding":3,"domainWidth":1.3}},
"y":{"field":"v","type":"quantitative","scale":{"type":"log","domain":[0.001,1000000]},"axis":{"title":"G', G'' (Pa)","tickCount":40,"labelExpr":"abs(log(datum.value)/LN10-round(log(datum.value)/LN10))<0.001?'1.E'+(datum.value>=1?'+0':'-0')+abs(round(log(datum.value)/LN10)):''","labelFont":"Lato","labelFontSize":8,"titleFont":"Lato","titleFontSize":12.5,"tickSize":4,"labelPadding":5,"titlePadding":4,"domainWidth":1.3}}
},
"layer":[
{"transform":[{"filter":{"field":"s","oneOf":["Gp OKW","Gp CRW","Gp CLW","Gp BEW"]}}],
"encoding":{"color":{"field":"s","type":"nominal","scale":{"domain":["Gp OKW","Gp CRW","Gp CLW","Gp BEW"],"range":["#333333","#b0b0b0","#1f5f9f","#ed7d31"]},
"legend":{"orient":"none","legendX":365,"legendY":18,"rowPadding":24,"symbolType":"M-1,0H-0.15M0.15,0H1M-0.15,-0.15H0.15V0.15H-0.15Z","symbolSize":1444,"symbolStrokeWidth":1.3,"clipHeight":14,"labelFont":"Lato","labelFontSize":13,"labelColor":"#111","labelOffset":8,"labelExpr":"replace(replace(datum.label, 'Gpp', \"G''\"), 'Gp', \"G'\")"}}},
"layer":[
{"mark":{"type":"line","strokeWidth":1,"clip":true},"encoding":{}},
{"mark":{"type":"point","shape":"square","filled":false,"size":85,"strokeWidth":1.3,"opacity":1,"clip":true},"encoding":{}}
]},
{"transform":[{"filter":{"field":"s","oneOf":["Gpp OKW","Gpp CRW","Gpp CLW","Gpp BEW"]}}],
"encoding":{"color":{"field":"s","type":"nominal","scale":{"domain":["Gpp OKW","Gpp CRW","Gpp CLW","Gpp BEW"],"range":["#7b3a10","#ffc000","#c55a11","#f4a060"]},
"legend":{"orient":"none","legendX":365,"legendY":37,"rowPadding":24,"symbolType":"M-1,0H1M0,-0.19L0.18,0.14H-0.18Z","symbolSize":1444,"symbolStrokeWidth":1.3,"clipHeight":14,"labelFont":"Lato","labelFontSize":13,"labelColor":"#111","labelOffset":8,"labelExpr":"replace(replace(datum.label, 'Gpp', \"G''\"), 'Gp', \"G'\")"}}},
"layer":[
{"mark":{"type":"line","strokeWidth":1,"clip":true},"encoding":{}},
{"mark":{"type":"point","shape":"triangle-up","filled":true,"size":95,"opacity":1,"clip":true},"encoding":{}}
]}
],
"resolve":{"scale":{"color":"independent"}}
}
],"spacing":55}
],"spacing":33,"align":"none"},
{"width":605,"height":403,"data":{"name":"e"},
"transform":[{"fold":["BEW","CLW","CRW","OKW"],"as":["s","v"]}],
"title":{"text":"(e)","orient":"bottom","frame":"group","offset":13},
"encoding":{
"x":{"field":"t","type":"quantitative","scale":{"domain":[0,900],"nice":false},"axis":{"title":"Time (s)","values":[0,20,40,60,80,100,120,140,160,180,200,220,240,260,280,300,320,340,360,380,400,420,440,460,480,500,520,540,560,580,600,620,640,660,680,700,720,740,760,780,800,820,840,860,880,900],"labelExpr":"datum.value % 100 == 0 ? datum.label : ''","labelFont":"Liberation Serif","labelFontSize":18,"titleFont":"Liberation Serif","titleFontSize":20,"tickSize":5,"labelPadding":8,"titlePadding":14,"domainWidth":1.5}},
"y":{"field":"v","type":"quantitative","scale":{"type":"log","domain":[0.001,1]},"axis":{"title":"Shear strain (%)","tickCount":40,"labelExpr":"abs(log(datum.value)/LN10-round(log(datum.value)/LN10))<0.001?format(datum.value,'~r'):''","labelFont":"Liberation Serif","labelFontSize":18,"titleFont":"Liberation Serif","titleFontSize":17,"tickSize":5,"labelPadding":6,"titlePadding":8,"domainWidth":1.5}},
"color":{"field":"s","type":"nominal","scale":{"domain":["BEW","CLW","CRW","OKW"],"range":["#1a6ec0","#e2501c","#8c8c8c","#f5c400"]},
"legend":{"orient":"none","legendX":58,"legendY":273,"rowPadding":15,"symbolType":"M-1,0H1","symbolSize":2500,"symbolStrokeWidth":3,"clipHeight":20,"labelFont":"Liberation Sans","labelFontSize":16,"labelColor":"#111","labelOffset":10}}
},
"layer":[{"mark":{"type":"line","strokeWidth":2.5,"clip":true},"encoding":{}}],
"resolve":{"scale":{"color":"independent"}}
}
],
"spacing":20,"center":true,
"resolve":{"scale":{"color":"independent"},"legend":{"color":"independent"}}
}
